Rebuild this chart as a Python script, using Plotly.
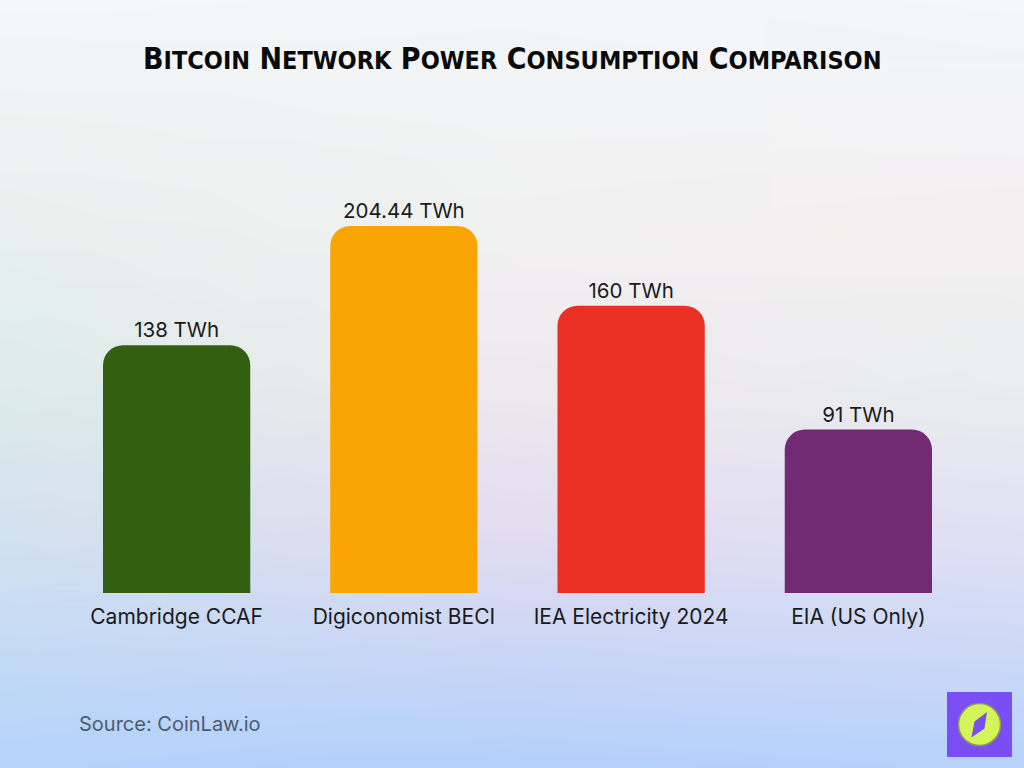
import base64, struct, zlib
import plotly.graph_objects as go

# ---------------- data ----------------
categories = ["Cambridge CCAF", "Digiconomist BECI", "IEA Electricity 2024", "EIA (US Only)"]
values_twh = [138, 204.44, 160, 91]
value_labels = ["138 TWh", "204.44 TWh", "160 TWh", "91 TWh"]
bar_colors = ["#325f10", "#faa503", "#e93022", "#722a72"]

title_text = "Bitcoin Network Power Consumption Comparison"
source_text = "Source: CoinLaw.io"

W, H = 1024, 768

# ---------------- background gradient (PNG built in-memory) ----------------
def hex2rgb(h):
    h = h.lstrip("#")
    return [int(h[i:i + 2], 16) for i in (0, 2, 4)]

grid_y = [0.0, 0.3, 0.5, 0.7, 1.0]
grid_x = [0.0, 0.5, 1.0]
grid_c = [
    ["#f5f6f7", "#f3f5f7", "#f2f7fb"],
    ["#e7f0ee", "#f1f1f1", "#f4eff0"],
    ["#dcece9", "#efe8ee", "#e9eeee"],
    ["#d2e1ef", "#e2dcf0", "#e0e0f4"],
    ["#b5d3fb", "#b3d0fb", "#b8d2fb"],
]
grid_c = [[hex2rgb(c) for c in row] for row in grid_c]

def interp1(pos, stops, vals):
    for i in range(len(stops) - 1):
        if stops[i] <= pos <= stops[i + 1]:
            t = (pos - stops[i]) / (stops[i + 1] - stops[i])
            return [a + (b - a) * t for a, b in zip(vals[i], vals[i + 1])]
    return vals[-1]

def make_png(w, h):
    raw = bytearray()
    for j in range(h):
        fy = j / (h - 1)
        row_cols = [interp1(fy, grid_y, [grid_c[r][c] for r in range(len(grid_y))]) for c in range(len(grid_x))]
        raw.append(0)
        for i in range(w):
            fx = i / (w - 1)
            col = interp1(fx, grid_x, row_cols)
            raw.extend(int(round(v)) for v in col)
    def chunk(t, d):
        c = struct.pack(">I", len(d)) + t + d
        return c + struct.pack(">I", zlib.crc32(t + d) & 0xffffffff)
    png = b"\x89PNG\r\n\x1a\n"
    png += chunk(b"IHDR", struct.pack(">IIBBBBB", w, h, 8, 2, 0, 0, 0))
    png += chunk(b"IDAT", zlib.compress(bytes(raw), 9))
    png += chunk(b"IEND", b"")
    return "data:image/png;base64," + base64.b64encode(png).decode()

bg_uri = make_png(256, 192)

# ---------------- figure ----------------
fig = go.Figure()
fig.add_trace(go.Bar(
    x=categories,
    y=values_twh,
    marker=dict(color=bar_colors, line=dict(width=0), cornerradius=20),
    width=0.648,
    text=value_labels,
    textposition="outside",
    textfont=dict(family="Inter, Roboto, sans-serif", size=20.5, color="#1a1a1a"),
    cliponaxis=False,
    hoverinfo="skip",
))

def px_x(x):
    return x / W

def px_y(y):
    return 1 - y / H

def small_caps(s, small):
    out = []
    for word in s.split(" "):
        out.append(word[0].upper() + "<span style='font-size:%dpx'>%s</span>" % (small, word[1:].upper()))
    return " ".join(out)

fig.update_layout(
    width=W, height=H,
    margin=dict(l=0, r=0, t=0, b=0),
    paper_bgcolor="#f3f5f7",
    plot_bgcolor="rgba(0,0,0,0)",
    showlegend=False,
    bargap=0.352,
    xaxis=dict(
        domain=[63 / W, 972 / W],
        showgrid=False, zeroline=False, showline=False,
        ticks="", ticklabelstandoff=9,
        tickfont=dict(family="Inter, Roboto, sans-serif", size=21, color="#1a1a1a"),
    ),
    yaxis=dict(
        domain=[px_y(593), px_y(180)],
        range=[0, 230],
        showgrid=False, zeroline=False, showline=False, showticklabels=False,
    ),
    images=[dict(
        source=bg_uri, xref="paper", yref="paper", x=0, y=1,
        sizex=1, sizey=1, sizing="stretch", layer="below",
        xanchor="left", yanchor="top",
    )],
    annotations=[
        dict(
            text="<b>" + small_caps(title_text, 25) + "</b>",
            xref="paper", yref="paper", x=0.5, y=px_y(59),
            xanchor="center", yanchor="middle", showarrow=False,
            font=dict(family="DejaVu Sans Condensed, Liberation Sans Narrow, sans-serif", size=30, color="#0a0a0a"),
        ),
        dict(
            text=source_text,
            xref="paper", yref="paper", x=px_x(77), y=px_y(724),
            xanchor="left", yanchor="middle", showarrow=False,
            font=dict(family="Inter, Roboto, sans-serif", size=20, color="#4d5b72"),
        ),
    ],
    shapes=[
        dict(type="rect", xref="paper", yref="paper",
             x0=px_x(947), x1=px_x(1012), y0=px_y(757), y1=px_y(692),
             fillcolor="#7a4df5", line=dict(width=0)),
        dict(type="circle", xref="paper", yref="paper",
             x0=px_x(958.5), x1=px_x(1000.5), y0=px_y(745.5), y1=px_y(703.5),
             fillcolor="#d4f55a", line=dict(width=1.5, color="#8f9a5a")),
        dict(type="path", xref="paper", yref="paper",
             path="M %f,%f L %f,%f L %f,%f L %f,%f Z" % (
                 px_x(987), px_y(712), px_x(984.5), px_y(728.5),
                 px_x(971.5), px_y(737.5), px_x(974.5), px_y(721.5)),
             fillcolor="#7a4df5", line=dict(width=0)),
    ],
)

fig.write_html("out.html")
